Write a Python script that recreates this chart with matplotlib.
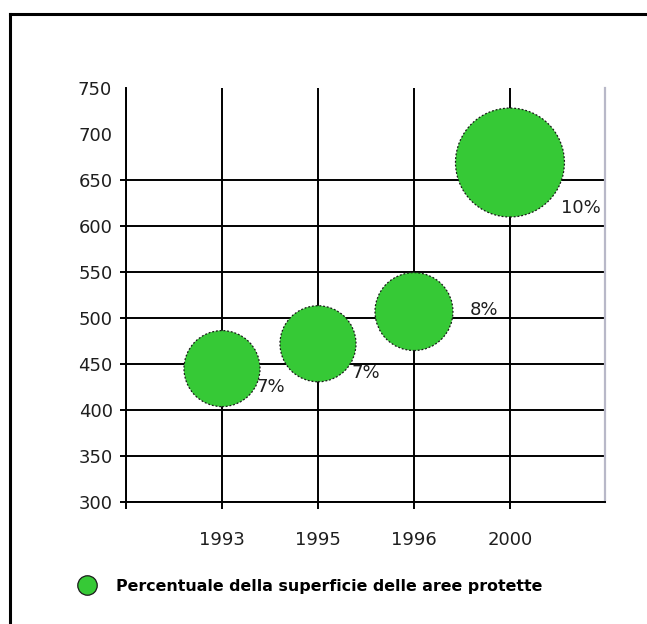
import matplotlib
matplotlib.use("Agg")
import matplotlib.pyplot as plt
from matplotlib.lines import Line2D

# ---- data ----
years = ["1993", "1995", "1996", "2000"]
values = [445, 472, 507, 669]
bubble_sizes = [3000, 3000, 3150, 6150]   # marker areas (pt^2)
pct_labels = ["7%", "7%", "8%", "10%"]
yticks_grid = [300, 350, 400, 450, 500, 550, 600, 650]
yticks_extra = [700, 750]
legend_label = "Percentuale della superficie delle aree protette"

plt.rcParams['font.family'] = ['DejaVu Sans']

W, H = 647, 624
fig = plt.figure(figsize=(W / 100, H / 100), dpi=100)
fig.patch.set_facecolor("white")

# outer frame (only top and left visible)
fig.add_artist(Line2D([10 / W, 10 / W], [0, 1 - 14 / H], transform=fig.transFigure,
                      color="black", lw=2.2))
fig.add_artist(Line2D([10 / W, 1], [1 - 14 / H, 1 - 14 / H], transform=fig.transFigure,
                      color="black", lw=2.2))

ax = fig.add_axes([126 / W, 1 - 502 / H, (605 - 126) / W, (502 - 88) / H])
ax.set_xlim(0, 4.99)
ax.set_ylim(300, 750)

xpos = list(range(1, len(years) + 1))
green = "#36c936"
tc = "#1e1e1e"
fs = 13

ax.scatter(xpos, values, s=bubble_sizes, color=green, edgecolors="#1a1a1a",
           linewidths=0.9, linestyle=(0, (1.5, 1.5)), zorder=3)

# labels
offsets = [(25, -13), (24, -21), (40, 1), (37, -33)]
for x, v, lab, off in zip(xpos, values, pct_labels, offsets):
    ax.annotate(lab, (x, v), xytext=off, textcoords="offset points",
                ha="left", va="center", fontsize=fs, color=tc, zorder=4)

# x axis
ax.set_xticks([0] + xpos)
ax.set_xticklabels([""] + years)
ax.tick_params(axis="x", length=5, width=1.4, color="black", pad=16,
               labelsize=fs, labelcolor=tc)
ax.xaxis.grid(True, color="black", lw=1.4)

# y axis
ax.set_yticks(yticks_grid)
ax.set_yticks(yticks_extra, minor=True)
ax.set_yticklabels([str(v) for v in yticks_grid])
ax.set_yticklabels([str(v) for v in yticks_extra], minor=True)
ax.tick_params(axis="y", which="major", length=4.5, width=1.4, color="black", pad=5,
               labelsize=fs, labelcolor=tc)
ax.tick_params(axis="y", which="minor", length=0, pad=10,
               labelsize=fs, labelcolor=tc)
ax.yaxis.grid(True, which="major", color="black", lw=1.4)
ax.set_axisbelow(True)

ax.spines["top"].set_visible(False)
ax.spines["left"].set_linewidth(1.4)
ax.spines["bottom"].set_linewidth(1.4)
ax.spines["right"].set_color("#b8b8c8")
ax.spines["right"].set_linewidth(1.6)
ax.spines["right"].set_bounds(300, 750)

# legend
handle = Line2D([], [], marker="o", linestyle="none", markersize=14,
                markerfacecolor=green, markeredgecolor="#1a1a1a", markeredgewidth=0.9)
fig.legend([handle], [legend_label], loc="center left",
           bbox_to_anchor=(57 / W, 1 - 586 / H), frameon=False,
           handletextpad=0.85, prop={"weight": "bold", "size": 11.4})

fig.savefig("out.png", dpi=100, facecolor="white")
